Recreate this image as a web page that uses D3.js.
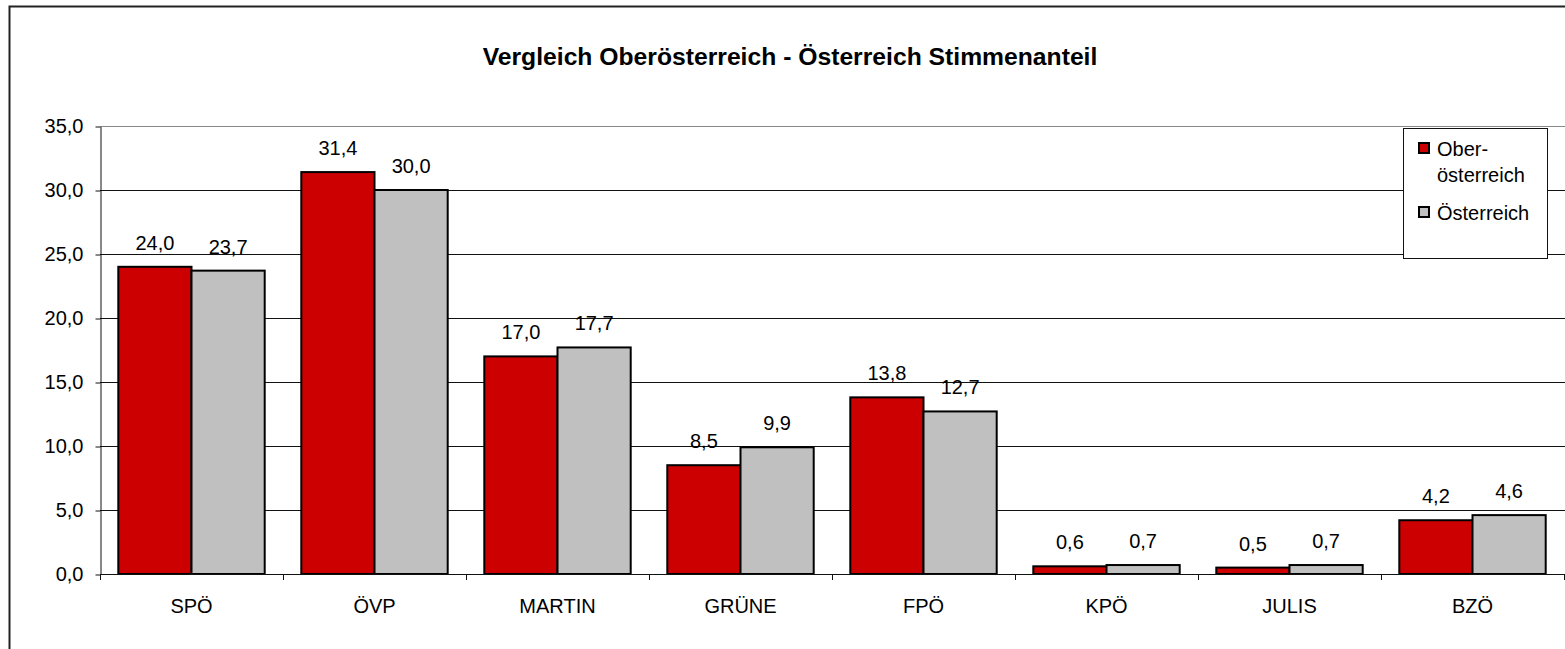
<!DOCTYPE html>
<html>
<head>
<meta charset="utf-8">
<script src="https://cdn.jsdelivr.net/npm/d3@7"></script>
<style>
  body { margin:0; background:#fff; }
  svg { font-family: "Liberation Sans", Arial, sans-serif; }
</style>
</head>
<body>
<script>
// data
const parties = ["SPÖ","ÖVP","MARTIN","GRÜNE","FPÖ","KPÖ","JULIS","BZÖ"];
const seriesNames = ["Ober-österreich","Österreich"];
const oberoesterreich = [24.0,31.4,17.0,8.5,13.8,0.6,0.5,4.2];
const oesterreich = [23.7,30.0,17.7,9.9,12.7,0.7,0.7,4.6];
const yTicks = [0,5,10,15,20,25,30,35];
const colors = ["#cc0000","#c0c0c0"];

const W = 1565, H = 649;
const plotL = 100, plotR = 1564, plotT = 126, plotB = 574;
const fs = "20px";

const svg = d3.select("body").append("svg")
  .attr("width", W).attr("height", H);

// outer chart border
svg.append("rect")
  .attr("x", 9.5).attr("y", 6.5)
  .attr("width", W + 10).attr("height", H + 10)
  .attr("fill", "none").attr("stroke", "#222").attr("stroke-width", 2);

svg.append("text")
  .attr("x", 790).attr("y", 65)
  .attr("text-anchor", "middle")
  .style("font-size", "24.7px").style("font-weight", "bold")
  .text("Vergleich Oberösterreich - Österreich Stimmenanteil");

const y = d3.scaleLinear().domain([0, 35]).range([plotB, plotT]);
const x0 = d3.scaleBand().domain(parties).range([plotL, plotR]);
const x1 = d3.scaleBand().domain(seriesNames).range([0, x0.bandwidth()])
  .paddingInner(0).paddingOuter(0.25);

// gridlines
svg.append("g").selectAll("line")
  .data(yTicks.filter(d => d > 0))
  .enter().append("line")
  .attr("x1", plotL).attr("x2", plotR + 5)
  .attr("y1", d => Math.round(y(d)) + 0.5).attr("y2", d => Math.round(y(d)) + 0.5)
  .attr("stroke", d => d == 35 ? "#888" : "#111").attr("stroke-width", 1);

// y axis
const yAxis = d3.axisLeft(y).tickValues(yTicks).tickSizeOuter(0).tickSizeInner(5)
  .tickPadding(12)
  .tickFormat(d => d3.format(".1f")(d).replace(".", ","));
const gy = svg.append("g").attr("transform", "translate(" + (plotL + 0.5) + ",0.5)").call(yAxis);
gy.select(".domain").attr("stroke", "#111");
gy.selectAll("line").attr("stroke", "#111");
gy.selectAll("text").style("font-size", fs).attr("fill", "#000");

// bars
const rows = parties.map((p, i) => ({ party: p, vals: [oberoesterreich[i], oesterreich[i]] }));
const groups = svg.append("g").selectAll("g")
  .data(rows).enter().append("g")
  .attr("transform", d => "translate(" + x0(d.party) + ",0)");

groups.selectAll("rect")
  .data(d => d.vals.map((v, j) => ({ v: v, s: seriesNames[j], j: j })))
  .enter().append("rect")
  .attr("x", d => x1(d.s))
  .attr("y", d => y(d.v))
  .attr("width", x1.bandwidth())
  .attr("height", d => y(0) - y(d.v))
  .attr("fill", d => colors[d.j])
  .attr("stroke", "#000").attr("stroke-width", 2);

groups.selectAll("text.val")
  .data(d => d.vals.map((v, j) => ({ v: v, s: seriesNames[j] })))
  .enter().append("text")
  .attr("class", "val")
  .attr("x", d => x1(d.s) + x1.bandwidth() / 2)
  .attr("y", d => y(d.v) - 17)
  .attr("text-anchor", "middle")
  .style("font-size", fs)
  .text(d => d3.format(".1f")(d.v).replace(".", ","));

// x axis
svg.append("line")
  .attr("x1", plotL).attr("x2", plotR + 5)
  .attr("y1", plotB + 0.5).attr("y2", plotB + 0.5)
  .attr("stroke", "#111");
svg.append("g").selectAll("line")
  .data(parties.concat(["end"]))
  .enter().append("line")
  .attr("x1", d => Math.round(d == "end" ? plotR : x0(d)) + 0.5)
  .attr("x2", d => Math.round(d == "end" ? plotR : x0(d)) + 0.5)
  .attr("y1", plotB).attr("y2", plotB + 6)
  .attr("stroke", "#111");
const xAxis = d3.axisBottom(x0).tickSize(0).tickPadding(25);
const gx = svg.append("g").attr("transform", "translate(0," + plotB + ")").call(xAxis);
gx.select(".domain").remove();
gx.selectAll("text").style("font-size", fs).attr("fill", "#000");

// legend
const lg = svg.append("g");
lg.append("rect")
  .attr("x", 1403.5).attr("y", 128.5).attr("width", 144).attr("height", 130)
  .attr("fill", "#fff").attr("stroke", "#111");
const legendLines = [["Ober-", "österreich"], ["Österreich"]];
const legendBase = [156, 220];
legendLines.forEach((lines, i) => {
  lg.append("rect")
    .attr("x", 1419).attr("y", legendBase[i] - 13)
    .attr("width", 10).attr("height", 10)
    .attr("fill", colors[i]).attr("stroke", "#000").attr("stroke-width", 2);
  lines.forEach((t, k) => {
    lg.append("text")
      .attr("x", 1437).attr("y", legendBase[i] + k * 26)
      .style("font-size", fs)
      .text(t);
  });
});
</script>
</body>
</html>
